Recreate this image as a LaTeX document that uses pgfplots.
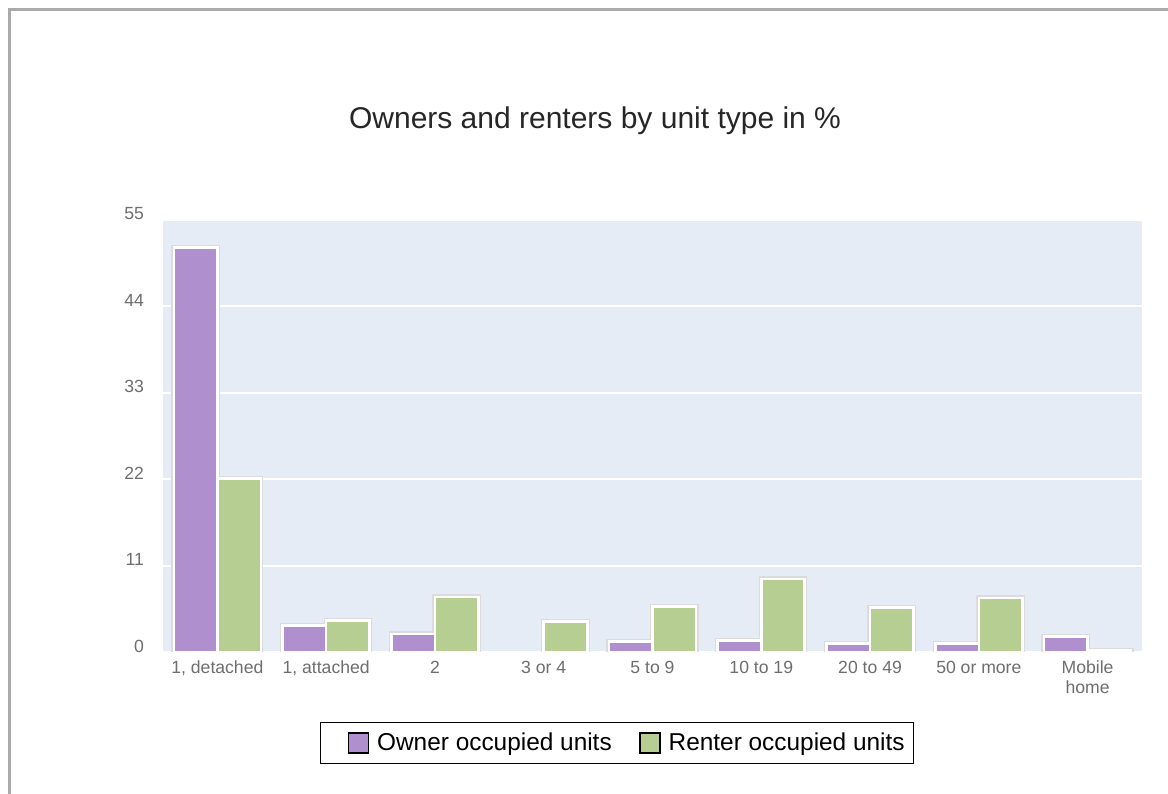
\documentclass[border=0pt]{standalone}
\usepackage{pgfplots}
\pgfplotsset{compat=1.18}
\usepackage{fontspec}
\setmainfont{Liberation Sans}
\definecolor{ownerc}{RGB}{175,143,206}
\definecolor{renterc}{RGB}{182,206,145}
\definecolor{plotbg}{RGB}{229,236,245}
\definecolor{ticktxt}{RGB}{110,110,110}
\definecolor{framec}{RGB}{170,170,170}
\pgfplotstableread{
x owner renter
0 51.5 22.1
1 3.4 4.0
2 2.3 7.0
3 nan 3.9
4 1.3 5.8
5 1.5 9.3
6 1.1 5.7
7 1.1 6.9
8 2.0 0.2
}\datatable
\begin{document}
\begin{tikzpicture}
\path[use as bounding box] (-81.5pt,-70.5pt) rectangle (502.5pt,326pt);
\fill[white] (-81.5pt,-70.5pt) rectangle (502.5pt,326pt);
\draw[framec, line width=1.5pt] (-76.5pt,-71pt) -- (-76.5pt,321pt) -- (503pt,321pt);
\begin{axis}[
  scale only axis,
  width=489.5pt, height=216pt,
  xmin=-0.5, xmax=8.5, ymin=0, ymax=55,
  ytick={0,11,22,33,44,55},
  xtick={0,...,8},
  xticklabels={{1, detached},{1, attached},2,3 or 4,5 to 9,10 to 19,20 to 49,50 or more,Mobile\\home},
  axis background/.style={fill=plotbg},
  axis line style={draw=none},
  major tick length=0pt,
  ymajorgrids,
  major grid style={white, line width=1pt},
  /pgf/number format/assume math mode=true,
  tick label style={font=\fontsize{8.8}{10}\selectfont, text=ticktxt},
  yticklabel style={anchor=east, xshift=-6pt, yshift=3pt},
  xticklabel style={align=center, yshift=-1pt},
  unbounded coords=discard,
  ybar, bar width=0.4,
  title={Owners and renters by unit type in \%},
  title style={at={(axis description cs:0.4413,1.201)}, anchor=center, font=\fontsize{15}{18}\selectfont, text=black!85},
  legend style={at={(axis description cs:0.4637,-0.2106)}, anchor=center, draw=black, line width=0.6pt, fill=white,
    font=\fontsize{12.2}{14}\selectfont, inner xsep=2.5pt, inner ysep=3pt,
    /tikz/every odd column/.append style={column sep=2pt},
    /tikz/every even column/.append style={column sep=0.5pt}},
  legend columns=2,
  legend image code/.code={\path (0pt,0pt); \draw[#1, draw=black, line width=0.6pt] (11pt,-5pt) rectangle (21pt,5pt);},
]
\addplot[forget plot, draw=black!14, line width=2.6pt, bar shift=-0.2] table[x=x, y=owner] {\datatable};
\addplot[forget plot, draw=black!14, line width=2.6pt, bar shift=0.2] table[x=x, y=renter] {\datatable};
\addplot[fill=ownerc, draw=white, line width=1.3pt, bar shift=-0.2] table[x=x, y=owner] {\datatable};
\addplot[fill=renterc, draw=white, line width=1.3pt, bar shift=0.2] table[x=x, y=renter] {\datatable};
\legend{Owner occupied units, Renter occupied units}
\end{axis}
\end{tikzpicture}
\end{document}
